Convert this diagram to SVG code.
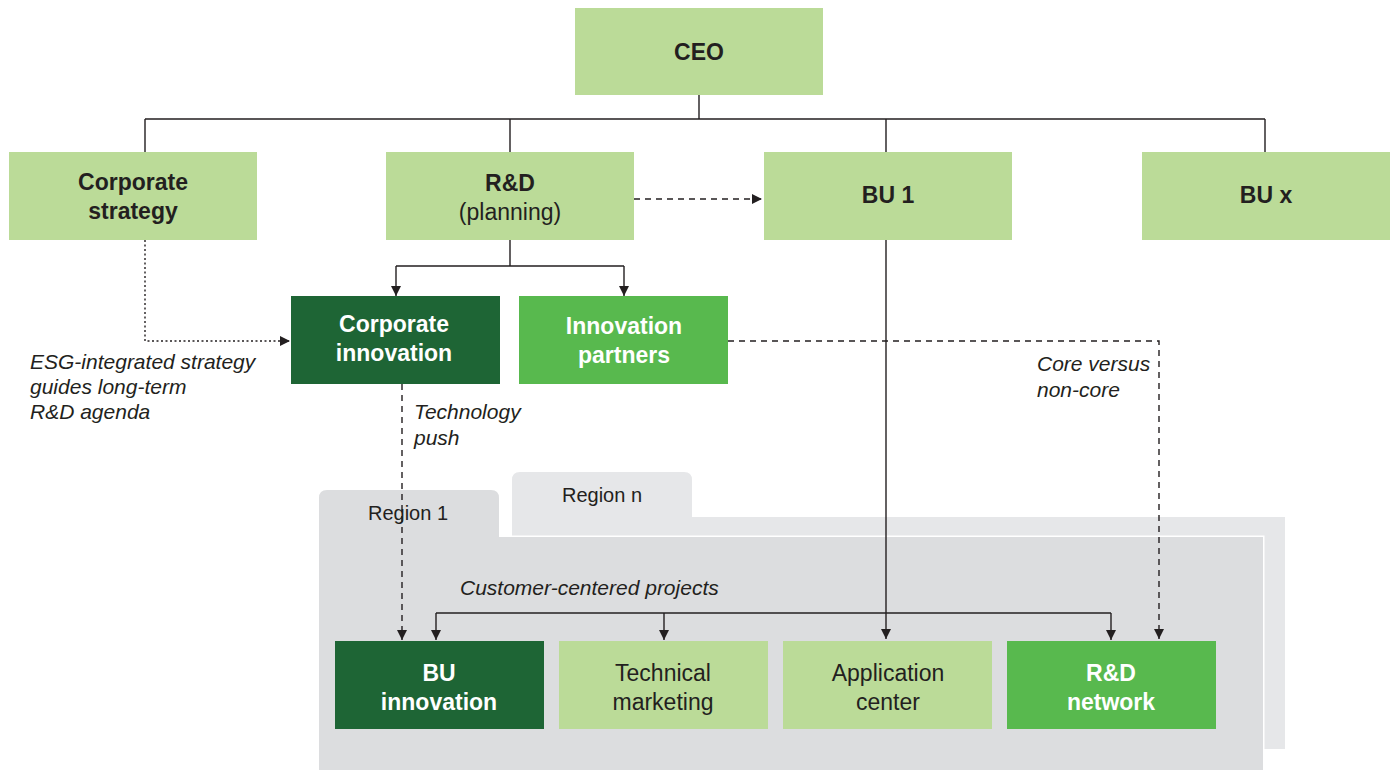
<svg xmlns="http://www.w3.org/2000/svg" width="1396" height="778" viewBox="0 0 1396 778">
<defs>
<style>
.lt{fill:#bbdb98}
.dk{fill:#1e6535}
.md{fill:#58b94e}
text{font-family:"Liberation Sans",Arial,Helvetica,sans-serif;fill:#231f20}
.b{font-weight:bold;font-size:23px;text-anchor:middle}
.r{font-size:23px;text-anchor:middle}
.w{fill:#ffffff}
.it{font-style:italic;font-size:21px}
.rg{font-size:20px;text-anchor:middle}
.ln{fill:none;stroke:#231f20;stroke-width:1.4}
.ds{stroke-dasharray:6 5}
.dt{stroke-dasharray:2 2.5}
</style>
<marker id="ar" viewBox="0 0 10 10" refX="10" refY="5" markerWidth="10" markerHeight="10" markerUnits="userSpaceOnUse" orient="auto">
<path d="M0,0 L10,5 L0,10 z" fill="#231f20"/>
</marker>
</defs>
<rect width="1396" height="778" fill="#ffffff"/>

<g id="region-n">
<path d="M512,517 V480 Q512,472 520,472 H684 Q692,472 692,480 V517 H1285 V749 H512 Z" fill="#e6e7e9"/>
<text class="rg" x="602" y="502">Region n</text>
</g>
<g id="region-1">
<path d="M319,537 V498 Q319,490 327,490 H491 Q499,490 499,498 V537 H1263 V770 H319 Z" fill="#dcdddf" stroke="#ffffff" stroke-width="3"/>
<path d="M319,537 V498 Q319,490 327,490 H491 Q499,490 499,498 V537 H1263 V770 H319 Z" fill="#dcdddf"/>
<text class="rg" x="408" y="520">Region 1</text>
</g>

<g id="connectors">
<path class="ln" d="M699,95 V119 M145,119 H1265 M145,119 V152 M510,119 V152 M886,119 V152 M1265,119 V152"/>
<path class="ln ds" d="M634,199 H762" marker-end="url(#ar)"/>
<path class="ln" d="M510,240 V266 M396,266 H624"/>
<path class="ln" d="M396,266 V296" marker-end="url(#ar)"/>
<path class="ln" d="M624,266 V296" marker-end="url(#ar)"/>
<path class="ln dt" d="M145,240 V341 H290" marker-end="url(#ar)"/>
<path class="ln ds" d="M728,341 H1159 V639" marker-end="url(#ar)"/>
<path class="ln" d="M886,240 V639" marker-end="url(#ar)"/>
<path class="ln ds" d="M402,384 V640" marker-end="url(#ar)"/>
<path class="ln" d="M436,613 H1111"/>
<path class="ln" d="M436,613 V640" marker-end="url(#ar)"/>
<path class="ln" d="M664,613 V640" marker-end="url(#ar)"/>
<path class="ln" d="M1111,613 V640" marker-end="url(#ar)"/>
</g>

<g id="ceo">
<rect class="lt" x="575" y="8" width="248" height="87"/>
<text class="b" x="699" y="60">CEO</text>
</g>
<g id="corporate-strategy">
<rect class="lt" x="9" y="152" width="248" height="88"/>
<text class="b" x="133" y="190">Corporate</text>
<text class="b" x="133" y="219">strategy</text>
</g>
<g id="rd-planning">
<rect class="lt" x="386" y="152" width="248" height="88"/>
<text class="b" x="510" y="191">R&amp;D</text>
<text class="r" x="510" y="220">(planning)</text>
</g>
<g id="bu1">
<rect class="lt" x="764" y="152" width="248" height="88"/>
<text class="b" x="888" y="203">BU 1</text>
</g>
<g id="bux">
<rect class="lt" x="1142" y="152" width="248" height="88"/>
<text class="b" x="1266" y="203">BU x</text>
</g>
<g id="corporate-innovation">
<rect class="dk" x="291" y="296" width="209" height="88"/>
<text class="b w" x="394" y="332">Corporate</text>
<text class="b w" x="394" y="361">innovation</text>
</g>
<g id="innovation-partners">
<rect class="md" x="519" y="296" width="209" height="88"/>
<text class="b w" x="624" y="334">Innovation</text>
<text class="b w" x="624" y="363">partners</text>
</g>
<g id="bu-innovation">
<rect class="dk" x="335" y="641" width="209" height="88"/>
<text class="b w" x="439" y="681">BU</text>
<text class="b w" x="439" y="710">innovation</text>
</g>
<g id="technical-marketing">
<rect class="lt" x="559" y="641" width="209" height="88"/>
<text class="r" x="663" y="681">Technical</text>
<text class="r" x="663" y="710">marketing</text>
</g>
<g id="application-center">
<rect class="lt" x="783" y="641" width="209" height="88"/>
<text class="r" x="888" y="681">Application</text>
<text class="r" x="888" y="710">center</text>
</g>
<g id="rd-network">
<rect class="md" x="1007" y="641" width="209" height="88"/>
<text class="b w" x="1111" y="681">R&amp;D</text>
<text class="b w" x="1111" y="710">network</text>
</g>

<g id="labels">
<text class="it" x="30" y="369">ESG-integrated strategy</text>
<text class="it" x="30" y="394">guides long-term</text>
<text class="it" x="30" y="419">R&amp;D agenda</text>
<text class="it" x="414" y="419">Technology</text>
<text class="it" x="414" y="445">push</text>
<text class="it" x="1037" y="371">Core versus</text>
<text class="it" x="1037" y="397">non-core</text>
<text class="it" x="460" y="595">Customer-centered projects</text>
</g>
</svg>
